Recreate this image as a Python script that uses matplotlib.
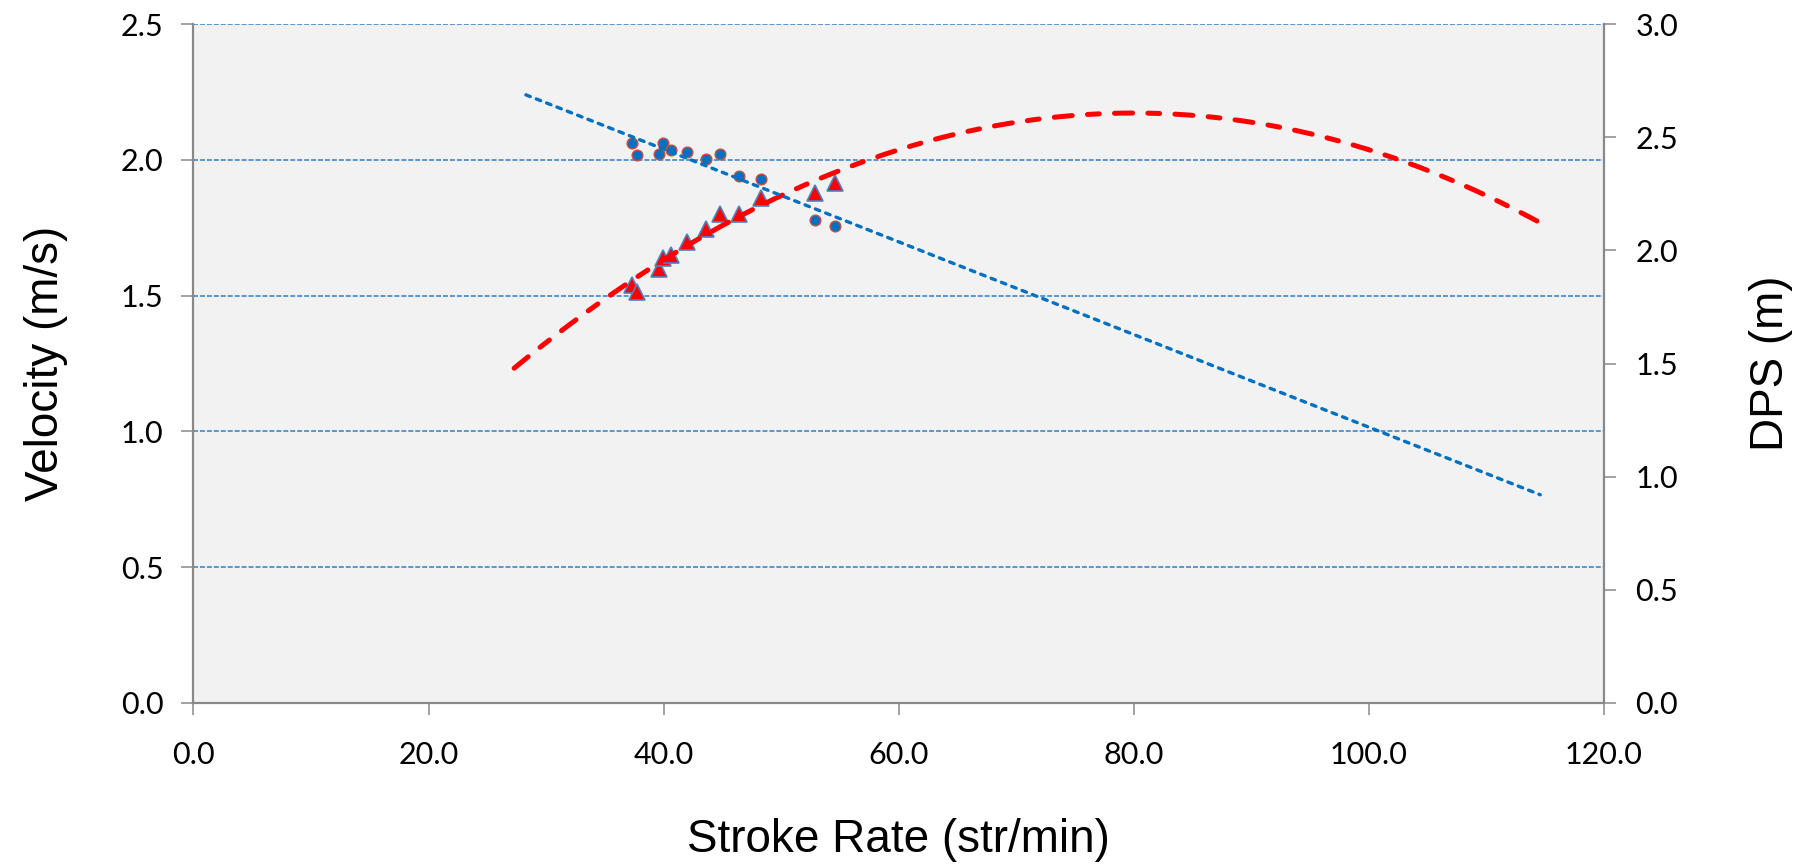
import numpy as np
import matplotlib
matplotlib.use("Agg")
import matplotlib.pyplot as plt

# ---- data ----
stroke_rate = [37.28, 37.71, 39.60, 39.92, 40.62, 42.01, 43.60, 44.79, 46.43, 48.28, 52.87, 54.58]
velocity = [1.539, 1.514, 1.597, 1.637, 1.649, 1.698, 1.744, 1.799, 1.799, 1.859, 1.879, 1.913]
dps = [2.473, 2.419, 2.425, 2.476, 2.444, 2.433, 2.404, 2.425, 2.330, 2.315, 2.136, 2.108]

# polynomial trendline of velocity (order 2), coefficients
velocity_trend_coeffs = [-0.000338, 0.05408, 0.009]

# trendline forecast settings (as in a spreadsheet trendline)
vel_backward, vel_forward = 10.0, 60.0
dps_backward, dps_forward = 9.0, 60.0

x_ticks = [0, 20, 40, 60, 80, 100, 120]
vel_ticks = [0.0, 0.5, 1.0, 1.5, 2.0, 2.5]
dps_ticks = [0.0, 0.5, 1.0, 1.5, 2.0, 2.5, 3.0]

x_label = "Stroke Rate (str/min)"
vel_label = "Velocity (m/s)"
dps_label = "DPS (m)"

plt.rcParams["lines.scale_dashes"] = False

sr = np.array(stroke_rate)
v = np.array(velocity)
d = np.array(dps)

fig = plt.figure(figsize=(18.06, 8.64), dpi=100)
ax = fig.add_axes([193.5 / 1806, 1 - 703 / 864, (1604 - 193.5) / 1806, (703 - 24) / 864])
ax.set_facecolor("#f2f2f2")
ax2 = ax.twinx()
ax2.patch.set_visible(False)

spine_col = "#898989"
grid_col = "#2f7fc8"

ax.set_xlim(0, 120)
ax.set_ylim(0, 2.5)
ax.set_xticks(x_ticks)
ax.set_xticklabels([f"{t:.1f}" for t in x_ticks])
ax.set_yticks(vel_ticks)
ax.set_yticklabels([f"{t:.1f}" for t in vel_ticks])
ax2.set_ylim(0, 3.0)
ax2.set_yticks(dps_ticks)
ax2.set_yticklabels([f"{t:.1f}" for t in dps_ticks])

ax.yaxis.grid(True, color=grid_col, linewidth=1.1, linestyle=(0, (3.6, 1.4)))
ax.set_axisbelow(True)

for a in (ax, ax2):
    for s in a.spines.values():
        s.set_visible(False)
ax.spines["left"].set_visible(True)
ax.spines["bottom"].set_visible(True)
ax2.spines["right"].set_visible(True)
for s in (ax.spines["left"], ax.spines["bottom"], ax2.spines["right"]):
    s.set_color(spine_col)
    s.set_linewidth(1.6)

tick_family = ["Lato", "DejaVu Sans"]
tick_size = 22
ax.tick_params(axis="x", direction="out", length=8.6, width=1.1, color=spine_col, pad=19)
ax.tick_params(axis="y", direction="out", length=8.6, width=1.1, color=spine_col, pad=13)
ax2.tick_params(axis="y", direction="out", length=8.6, width=1.1, color=spine_col, pad=14)
for lab in ax.get_xticklabels() + ax.get_yticklabels() + ax2.get_yticklabels():
    lab.set_fontfamily(tick_family)
    lab.set_fontsize(tick_size)

label_font = dict(family=["Liberation Sans", "DejaVu Sans"], size=33)
ax.set_xlabel(x_label, fontdict=label_font, labelpad=35)
ax.set_ylabel(vel_label, fontdict=label_font, labelpad=38)
ax2.set_ylabel(dps_label, fontdict=label_font, labelpad=51)

# trendlines
xv = np.linspace(sr.min() - vel_backward, sr.max() + vel_forward, 300)
pdps = np.polyfit(sr, d, 1)
xd = np.linspace(sr.min() - dps_backward, sr.max() + dps_forward, 300)

ax.plot(sr, v, linestyle="none", marker="^", markersize=11,
        markerfacecolor="#ff0000", markeredgecolor="#4f81bd", markeredgewidth=1.2, zorder=3)
ax.plot(xv, np.polyval(velocity_trend_coeffs, xv), color="#ff0000", linewidth=3.6,
        linestyle=(0, (13.0, 11.0, 8.5, 11.0)), dash_capstyle="round", zorder=4)

ax2.plot(sr, d, linestyle="none", marker="o", markersize=7.6,
         markerfacecolor="#0070c0", markeredgecolor="#c0504d", markeredgewidth=1.1, zorder=3)
ax2.plot(xd, np.polyval(pdps, xd), color="#0070c0", linewidth=2.4,
         linestyle=(0, (3.4, 4.6)), dash_capstyle="round", zorder=4)

fig.savefig("out.png", dpi=100, facecolor="white")
